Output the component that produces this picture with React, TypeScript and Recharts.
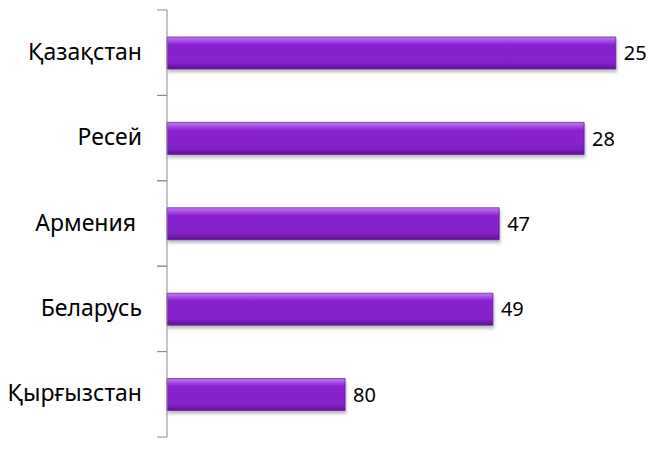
import React from "react";
import { BarChart, Bar, XAxis, YAxis, LabelList } from "recharts";

const countries = ["Қазақстан", "Ресей", "Армения ", "Беларусь", "Қырғызстан"];
// bar lengths (axis is hidden, 0..100 scale)
const scores = [93.5, 86.9, 69.2, 67.9, 37.1];
// numbers printed next to the bars
const labels = ["25", "28", "47", "49", "80"];

const data = countries.map((name, i) => ({
  name,
  score: scores[i],
  label: labels[i],
}));

const W = 652;
const H = 449;
const MARGIN = { top: 10, right: 5, left: 0, bottom: 12 };
const AXIS_W = 167;
const BAND = (H - MARGIN.top - MARGIN.bottom) / countries.length;
const font = '"Noto Sans", "Open Sans", sans-serif';

// label plus Excel-style tick marks between the categories
const CategoryTick = (props: any) => {
  const { x, y, payload } = props;
  const lineX = AXIS_W + MARGIN.left;
  return (
    <g>
      <line x1={lineX - 10} x2={lineX} y1={y - BAND / 2} y2={y - BAND / 2} stroke="#8c8c8c" />
      <line x1={lineX - 10} x2={lineX} y1={y + BAND / 2} y2={y + BAND / 2} stroke="#8c8c8c" />
      <text
        x={x}
        y={y - 1}
        dy="0.35em"
        textAnchor="end"
        fill="#000"
        fontSize={23}
        fontFamily={font}
        style={{ whiteSpace: "pre" }}
      >
        {payload.value}
      </text>
    </g>
  );
};

export default function App() {
  return (
    <div style={{ width: W, height: H, background: "#fff" }}>
      <style>{`body{margin:0}`}</style>
      <BarChart
        width={W}
        height={H}
        data={data}
        layout="vertical"
        margin={MARGIN}
        barSize={32}
      >
        <defs>
          <linearGradient id="barFill" x1="0" y1="0" x2="0" y2="1">
            <stop offset="0%" stopColor="#c47af2" />
            <stop offset="14%" stopColor="#a048e2" />
            <stop offset="24%" stopColor="#8a22cf" />
            <stop offset="82%" stopColor="#8420c8" />
            <stop offset="100%" stopColor="#5c128f" />
          </linearGradient>
          <filter id="shadow" x="-5%" y="-20%" width="110%" height="150%">
            <feDropShadow dx="1" dy="3" stdDeviation="1.5" floodColor="#000" floodOpacity="0.25" />
          </filter>
        </defs>
        <XAxis type="number" domain={[0, 100]} hide />
        <YAxis
          type="category"
          dataKey="name"
          width={AXIS_W}
          axisLine={{ stroke: "#8c8c8c" }}
          tickLine={false}
          tickSize={0}
          tickMargin={25}
          tick={<CategoryTick />}
        />
        <Bar
          dataKey="score"
          fill="url(#barFill)"
          stroke="#6a1aa8"
          strokeWidth={0.8}
          filter="url(#shadow)"
          isAnimationActive={false}
        >
          <LabelList
            dataKey="label"
            position="right"
            offset={8}
            fill="#000"
            fontSize={20}
            fontFamily={font}
          />
        </Bar>
      </BarChart>
    </div>
  );
}
